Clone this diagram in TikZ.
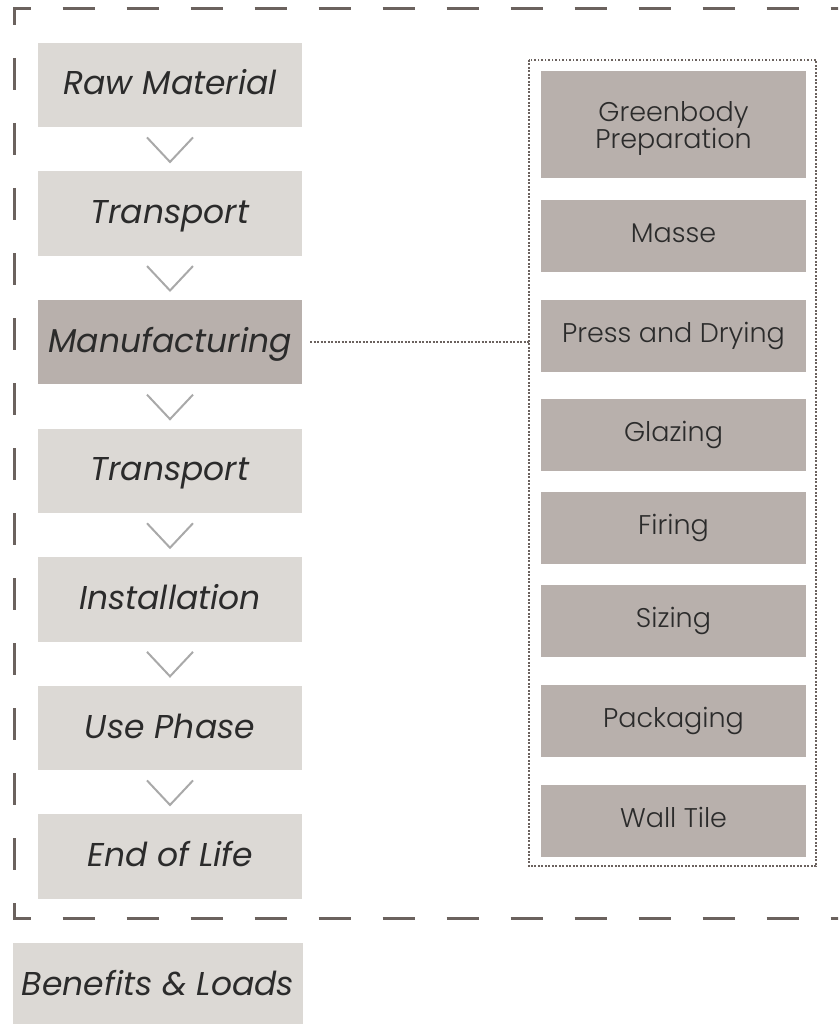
\documentclass[tikz,border=0pt]{standalone}
\usepackage{fontspec}
\setmainfont{Poppins}[UprightFont=* Light, ItalicFont=* Italic]
\definecolor{lightbox}{HTML}{DCD9D5}
\definecolor{darkbox}{HTML}{B8B0AC}
\definecolor{frameclr}{HTML}{6B625E}
\definecolor{chevclr}{HTML}{A9A9A9}
\definecolor{txt}{HTML}{2B2B2B}
\tikzset{
  lbox/.style={fill=lightbox, draw=none, minimum width=264pt, minimum height=84.5pt, inner sep=0pt,
    font=\fontsize{33}{35}\selectfont\itshape, text=txt, text height=20pt, text depth=0pt},
  mbox/.style={lbox, fill=darkbox},
  rfont/.style={font=\fontsize{27}{26}\selectfont, text=txt},
  rbase/.style={fill=darkbox, draw=none, minimum width=265pt, minimum height=72pt, inner sep=0pt, rfont},
  rbox/.style={rbase, text height=12pt, text depth=0pt},
  chev/.style={draw=chevclr, line width=2pt, line join=miter},
  dashedge/.style={draw=frameclr, line width=3pt, dash pattern=on 32pt off 32pt, dash phase=14.5pt},
  dashedgev/.style={draw=frameclr, line width=3pt, dash pattern=on 32pt off 33pt, dash phase=14.5pt},
  dotline/.style={draw=frameclr, line width=2pt, dash pattern=on 1.9pt off 1.6pt},
}
\begin{document}
\begin{tikzpicture}[x=1pt,y=-1pt]
\useasboundingbox (0,0) rectangle (838,1024);
\clip (0,0) rectangle (838,1024);
% dashed system boundary
\draw[dashedgev] (14.5,7.5) -- (14.5,919.5);
\draw[dashedge] (13,9) -- (860,9);
\draw[dashedge] (13,918) -- (860,918);
% left column
\node[lbox] (raw) at (170,85) {Raw Material};
\node[lbox] (tr1) at (170,213.6) {Transport};
\node[mbox] (manu) at (170,342.2) {Manufacturing};
\node[lbox] (tr2) at (170,470.8) {Transport};
\node[lbox] (inst) at (170,599.4) {Installation};
\node[lbox] (use) at (170,728) {Use Phase};
\node[lbox] (eol) at (170,856.6) {End of Life};
\node[lbox, minimum width=290pt] (bl) at (158,985.5) {Benefits \& Loads};
% chevrons
\foreach \a in {raw,tr1,manu,tr2,inst,use}{
  \draw[chev] ([shift={(-23,10)}]\a.south) -- ([shift={(0,34.5)}]\a.south) -- ([shift={(23,10)}]\a.south);
}
% right column frame
\node[draw=none, minimum width=287pt, minimum height=806pt, inner sep=0pt] (frame) at (672.5,463) {};
\draw[dotline] (frame.north west) rectangle (frame.south east);
\node[rbase, minimum height=107pt] (green) at (673.5,124.5) {};
\node[rfont, align=center, inner sep=0pt] (greentxt) at ([shift={(0,4)}]green.center) {Greenbody\\[-2pt]Preparation};
\node[rbox] (masse) at (673.5,236) {Masse};
\node[rbox] (press) at (673.5,336) {Press and Drying};
\node[rbox] (glaz) at (673.5,435) {Glazing};
\node[rbox] (fire) at (673.5,528) {Firing};
\node[rbox] (size) at (673.5,621) {Sizing};
\node[rbox] (pack) at (673.5,721) {Packaging};
\node[rbox] (wall) at (673.5,821) {Wall Tile};
% connector
\draw[dotline] ([xshift=8pt]manu.east) -- (frame.west |- manu.east);
\end{tikzpicture}
\end{document}
